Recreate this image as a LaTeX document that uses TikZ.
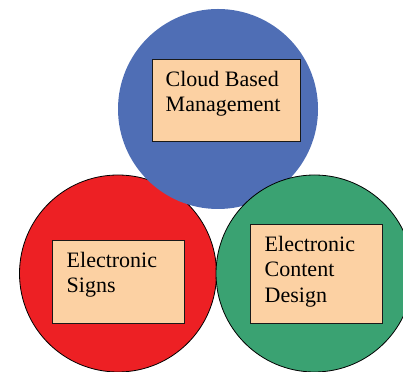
\documentclass[tikz,border=0pt]{standalone}
\usepackage{fontspec}
\setmainfont{Liberation Serif}
\usetikzlibrary{positioning}

\definecolor{cloudBlue}{RGB}{79,110,181}
\definecolor{signRed}{RGB}{237,32,36}
\definecolor{designGreen}{RGB}{58,162,114}
\definecolor{boxPeach}{RGB}{252,209,163}

\def\r{98.5}
\def\rtop{100}

\tikzset{
  labelbox/.style={draw=black!90, line width=1pt, fill=boxPeach, inner sep=0pt},
  boxtext/.style={inner sep=0pt, align=left, font=\fontsize{22}{25.5}\selectfont}
}

\begin{document}
\begin{tikzpicture}[x=1pt,y=1pt]
\useasboundingbox (0,0) rectangle (403,371);

% Circles (red below blue, green on top)
\filldraw[fill=signRed, draw=black, line width=0.8pt] (118,97.5) circle (\r);
\fill[cloudBlue] (218,262) circle (\rtop);
\filldraw[fill=designGreen, draw=black, line width=0.8pt] (314.5,97.5) circle (\r);

% Boxes
\node[labelbox, minimum width=148pt, minimum height=82pt] (cloudBox) at (226,270) {};
\node[labelbox, minimum width=132pt, minimum height=83pt] (signBox) at (118,88.5) {};
\node[labelbox, minimum width=132pt, minimum height=99pt] (designBox) at (316,96.5) {};

% Labels
\node[boxtext, below right=11.5pt and 14pt of cloudBox.north west] (cloudText) {Cloud Based\\Management};
\node[boxtext, below right=11.5pt and 15pt of signBox.north west] (signText) {Electronic\\Signs};
\node[boxtext, below right=11.5pt and 15pt of designBox.north west] (designText) {Electronic\\Content\\Design};

\end{tikzpicture}
\end{document}
